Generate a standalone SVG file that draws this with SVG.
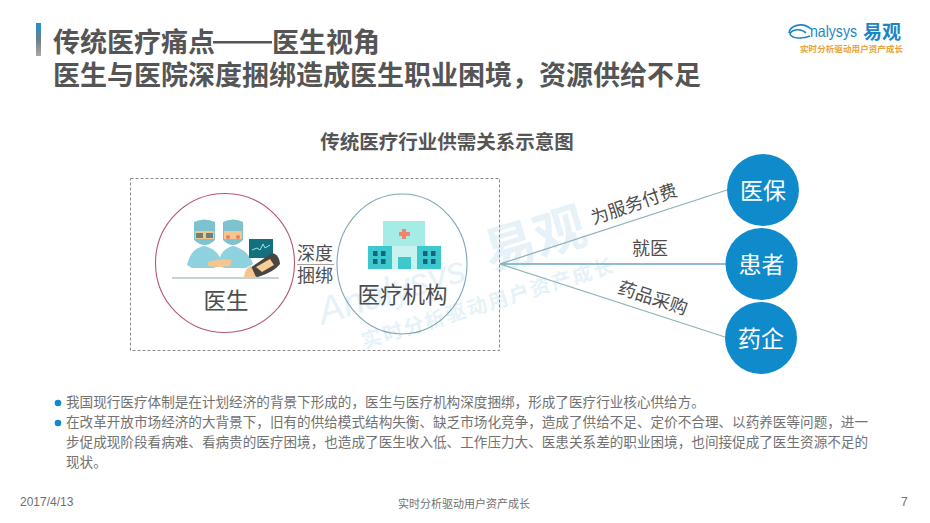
<svg xmlns="http://www.w3.org/2000/svg" width="930" height="523" viewBox="0 0 930 523">
<style>
text{font-family:"Noto Sans CJK SC","Noto Sans",sans-serif}
.title{font-size:27px;font-weight:700;fill:#555}
.body{font-size:13.6px;fill:#727272}
.lab{font-size:18px;fill:#4d4d4d;text-anchor:middle}
.big{font-size:22.5px;fill:#4d4d4d;text-anchor:middle}
.w{font-size:23px;fill:#fff;text-anchor:middle}
.conn{stroke:#8db4b8;stroke-width:1.3;fill:none}
.blue{fill:#0f8bcb}
.foot{font-size:11px;fill:#707070}
.latin{font-family:"Liberation Sans",sans-serif;font-size:12px}
.mark{fill:#e7f2f8}
.skin{fill:#f5c58e}
.cap{fill:#7cc3cf}
.gown{fill:#8fd2df}
.win{fill:#12647f}
</style>
<defs>
<linearGradient id="bar" x1="0" y1="0" x2="0" y2="1"><stop offset="0" stop-color="#1a93d2"/><stop offset=".5" stop-color="#6f7d88"/><stop offset="1" stop-color="#a8a8a8"/></linearGradient>
</defs>
<rect width="930" height="523" fill="#fff"/>

<g id="watermark" transform="rotate(-17 450 270)">
<text x="312" y="285" font-size="38" class="mark" font-style="italic" style="font-family:'Liberation Sans',sans-serif">Analysys</text>
<text x="488" y="284" font-size="52" class="mark" font-weight="700">易观</text>
<text x="345" y="320" font-size="20" class="mark" font-weight="700" letter-spacing="2">实时分析驱动用户资产成长</text>
</g>

<g id="header">
<rect x="36" y="23" width="5" height="33" fill="url(#bar)"/>
<text class="title" x="53" y="52">传统医疗痛点</text>
<rect x="213" y="41" width="59" height="2.500" fill="#555"/>
<text class="title" x="272" y="52">医生视角</text>
<text class="title" x="53" y="85">医生与医院深度捆绑造成医生职业困境，资源供给不足</text>
</g>

<g id="logo">
<path d="M789 33C790 26 802 21 811 29M810 36C803 39 792 39 790 34C792 29 801 28 806 33" fill="none" stroke="#1b86c6" stroke-width="1.600"/>
<text x="810" y="37" font-size="16.500" fill="#1b86c6" style="font-family:'Liberation Sans',sans-serif" textLength="47" lengthAdjust="spacingAndGlyphs">nalysys</text>
<text x="863" y="39" font-size="19" font-weight="700" fill="#1b86c6">易观</text>
<text x="800" y="52" font-size="8.500" font-weight="700" fill="#e8a33a" textLength="103">实时分析驱动用户资产成长</text>
</g>

<text x="447" y="149" text-anchor="middle" font-size="19.500" font-weight="700" fill="#555">传统医疗行业供需关系示意图</text>

<rect id="frame" x="130.500" y="178.500" width="369" height="172" fill="none" stroke="#8a8a8a" stroke-width="1" stroke-dasharray="3 2"/>

<g id="connectors">
<line class="conn" x1="500" y1="264" x2="727" y2="190"/>
<line class="conn" x1="500" y1="264" x2="726" y2="264" style="stroke:#6fa6c4"/>
<line class="conn" x1="500" y1="264" x2="725" y2="337"/>
<line x1="297" y1="264.500" x2="334" y2="264.500" stroke="#8a8a8a" stroke-width=".8"/>
</g>

<g id="node-doctor">
<circle cx="225" cy="263" r="69.500" fill="none" stroke="#b5566e" stroke-width="1.100"/>
<rect x="172" y="277" width="107" height="2" fill="#c4d3d5"/>
<path d="M187 265C190 254 194 248 204 246C214 248 220 254 222 264L214 268H192Z" class="gown"/>
<path d="M218 264C220 254 224 248 233 246C243 248 250 255 253 264L246 268H224Z" class="gown"/>
<path d="M208 262Q218 258 232 260L230 266Q218 268 208 266Z" class="skin"/>
<path d="M194 222Q204 217 215 222V240Q205 250 194 240Z" class="cap"/>
<path d="M223 222Q233 217 243 222V240Q233 250 223 240Z" class="cap"/>
<rect x="195" y="231" width="19" height="8" class="skin"/>
<rect x="224" y="231" width="18" height="8" class="skin"/>
<rect x="196" y="233" width="7" height="5" fill="#6e7f76"/><rect x="206" y="233" width="7" height="5" fill="#6e7f76"/>
<circle cx="228" cy="237" r="2" fill="#f0786a"/><circle cx="238" cy="237" r="2" fill="#f0786a"/>
<rect x="249" y="239" width="24" height="19" fill="#13707e"/>
<path d="M252 250l5-2 3 2 3-6 2 4 5-3" fill="none" stroke="#9ee6e6" stroke-width="1"/>
<path d="M250 268L272 253Q279 254 280 264Q274 272 258 277Q249 276 248 270Z" fill="#4a4540"/>
<path d="M256 267L270 259L274 265L262 272Z" fill="#f5cf96"/>
<path d="M244 277Q245 268 251 266L256 277Z" class="skin"/>
<text class="big" x="226" y="309">医生</text>
</g>

<g id="node-hospital">
<ellipse cx="402" cy="264" rx="65" ry="70" fill="none" stroke="#7da6b4" stroke-width="1.100"/>
<rect x="383" y="221" width="42" height="26" fill="#a6ece6"/>
<path d="M402 229h4v3h4v4h-4v3h-4v-3h-3v-4h3Z" fill="#f2846e"/>
<rect x="392" y="246" width="25" height="23" fill="#c8f2ee"/>
<rect x="398" y="257" width="13" height="12" fill="#3cc8cc"/>
<rect x="368" y="246" width="24" height="23" fill="#3cc8cc"/>
<rect x="417" y="246" width="24" height="23" fill="#3cc8cc"/>
<g class="win">
<rect x="373" y="251" width="4.500" height="5"/><rect x="381" y="251" width="4.500" height="5"/><rect x="373" y="259" width="4.500" height="5"/><rect x="381" y="259" width="4.500" height="5"/>
<rect x="423" y="251" width="4.500" height="5"/><rect x="431" y="251" width="4.500" height="5"/><rect x="423" y="259" width="4.500" height="5"/><rect x="431" y="259" width="4.500" height="5"/>
</g>
<text class="big" x="402.500" y="303">医疗机构</text>
</g>

<g id="label-bind">
<text class="lab" x="315" y="260">深度</text>
<text class="lab" x="315" y="282">捆绑</text>
</g>

<g id="node-yibao"><circle class="blue" cx="763" cy="190" r="36"/><text class="w" x="763" y="199">医保</text></g>
<g id="node-huanzhe"><circle class="blue" cx="761.500" cy="264" r="36"/><text class="w" x="761.500" y="273">患者</text></g>
<g id="node-yaoqi"><circle class="blue" cx="761" cy="338" r="36"/><text class="w" x="761" y="347">药企</text></g>

<g id="edge-labels">
<text class="lab" transform="translate(636 210) rotate(-19)">为服务付费</text>
<text class="lab" x="650" y="255">就医</text>
<text class="lab" transform="translate(651 304) rotate(18)">药品采购</text>
</g>

<g id="notes">
<circle class="blue" cx="58" cy="403" r="3.300"/>
<circle class="blue" cx="58" cy="423" r="3.300"/>
<text class="body" x="66" y="406.500">我国现行医疗体制是在计划经济的背景下形成的，医生与医疗机构深度捆绑，形成了医疗行业核心供给方。</text>
<text class="body" x="66" y="426.500">在改革开放市场经济的大背景下，旧有的供给模式结构失衡、缺乏市场化竞争，造成了供给不足、定价不合理、以药养医等问题，进一</text>
<text class="body" x="66" y="446.500">步促成现阶段看病难、看病贵的医疗困境，也造成了医生收入低、工作压力大、医患关系差的职业困境，也间接促成了医生资源不足的</text>
<text class="body" x="66" y="466.500">现状。</text>
</g>

<g id="footer">
<text class="foot latin" x="20" y="506">2017/4/13</text>
<text class="foot" x="464" y="508" text-anchor="middle">实时分析驱动用户资产成长</text>
<text class="foot latin" x="901" y="506">7</text>
</g>
</svg>
